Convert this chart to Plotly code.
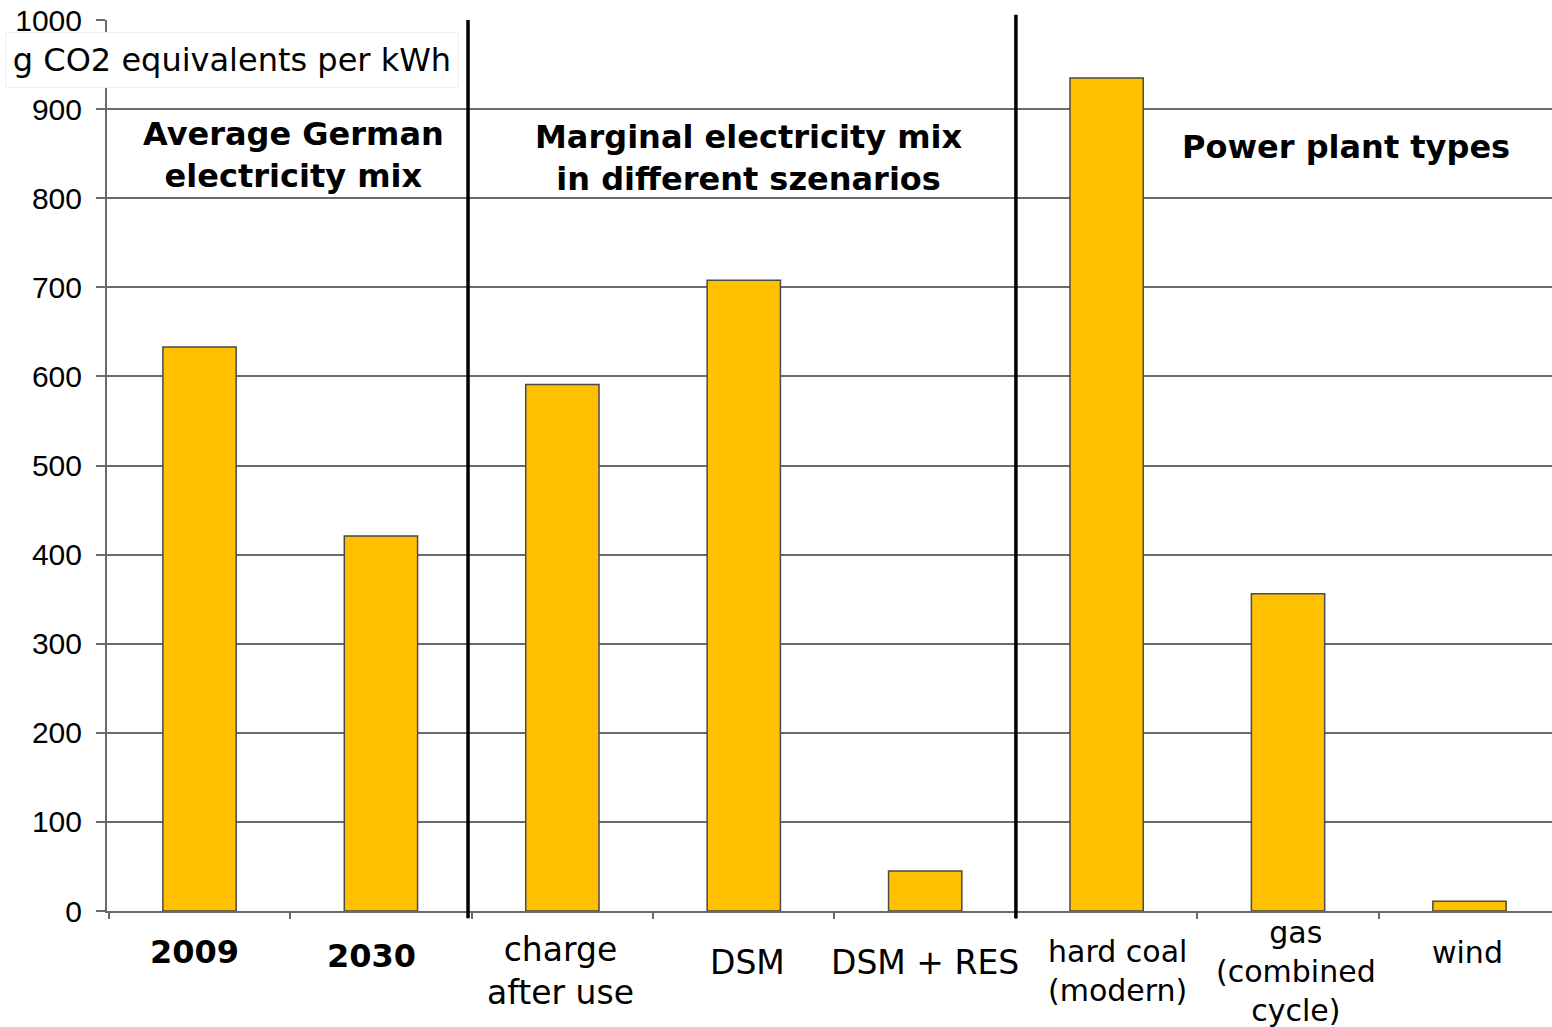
import plotly.graph_objects as go

# Emission factors in g CO2 equivalents per kWh
categories = ["2009", "2030", "charge after use", "DSM", "DSM + RES",
              "hard coal (modern)", "gas (combined cycle)", "wind"]
values = [633, 421, 591, 708, 45, 935, 356, 11]

# Text shown under each bar
tick_labels = ["<b>2009</b>", "<b>2030</b>", "charge<br>after use", "DSM",
               "DSM + RES", "hard coal<br>(modern)", "gas<br>(combined<br>cycle)", "wind"]

group_titles = ["<b>Average German<br>electricity mix</b>",
                "<b>Marginal electricity mix<br>in different szenarios</b>",
                "<b>Power plant types</b>"]

y_ticks = [0, 100, 200, 300, 400, 500, 600, 700, 800, 900, 1000]

FONT = "DejaVu Sans"
GRID = "#6a6a6a"

fig = go.Figure(go.Bar(
    x=categories,
    y=values,
    marker=dict(color="#FFC000", line=dict(color="#4a4a4a", width=1.5)),
))

fig.update_layout(
    width=1552, height=1027,
    margin=dict(l=107, r=0, t=20, b=116),
    paper_bgcolor="white", plot_bgcolor="white",
    bargap=0.596,
    showlegend=False,
    xaxis=dict(
        type="category",
        range=[-0.51, len(categories) - 0.545],
        showticklabels=False, tickson="boundaries",
        ticks="outside", ticklen=6, tickwidth=1.5, tickcolor=GRID,
        showgrid=False, showline=True, linecolor=GRID, linewidth=2,
        zeroline=False,
    ),
    yaxis=dict(
        range=[0, 1000], tickvals=y_ticks,
        ticks="outside", ticklen=9, tickwidth=1.5, tickcolor=GRID,
        showgrid=True, gridcolor=GRID, gridwidth=2,
        showline=True, linecolor=GRID, linewidth=2,
        zeroline=False,
        tickfont=dict(family="Liberation Sans", size=30, color="black"),
        ticklabelstandoff=8,
    ),
)

# Group separators at the category boundaries
for xb, top in [(1.48, 1.0), (4.5, 1.006)]:
    fig.add_shape(type="line", xref="x", yref="paper", x0=xb, x1=xb,
                  y0=-0.008, y1=top, line=dict(color="black", width=3.5),
                  layer="above")

# Category labels below the axis (font size and offsets per label)
label_sizes = [32, 32, 33, 33, 33, 30, 30, 30]
label_dx = [-5, -9, -2, 4, 0, 11, 8, -2]
label_dy = [12, 8, -7, 2, 2, -7, -7, 12]
for i, txt in enumerate(tick_labels):
    fig.add_annotation(x=i, xref="x", y=-0.06, yref="paper", text=txt,
                       showarrow=False, yanchor="middle",
                       xshift=label_dx[i], yshift=label_dy[i],
                       font=dict(family=FONT, size=label_sizes[i], color="black"))

# Group titles
title_pos = [(0.52, 848), (3.03, 845), (6.32, 858)]
for txt, (gx, gy) in zip(group_titles, title_pos):
    fig.add_annotation(x=gx, xref="x", y=gy, yref="y", text=txt,
                       showarrow=False, font=dict(family=FONT, size=32, color="black"))

# Unit label on a white box over the axis
fig.add_annotation(x=(232 - 107) / 1445, xref="paper", xanchor="center",
                   y=955, yref="y", yanchor="middle",
                   text="g CO2 equivalents per kWh", showarrow=False,
                   bgcolor="white", bordercolor="#efefef", borderwidth=1,
                   width=452, height=54, borderpad=0,
                   font=dict(family=FONT, size=32, color="black"))

fig.write_html("out.html")
